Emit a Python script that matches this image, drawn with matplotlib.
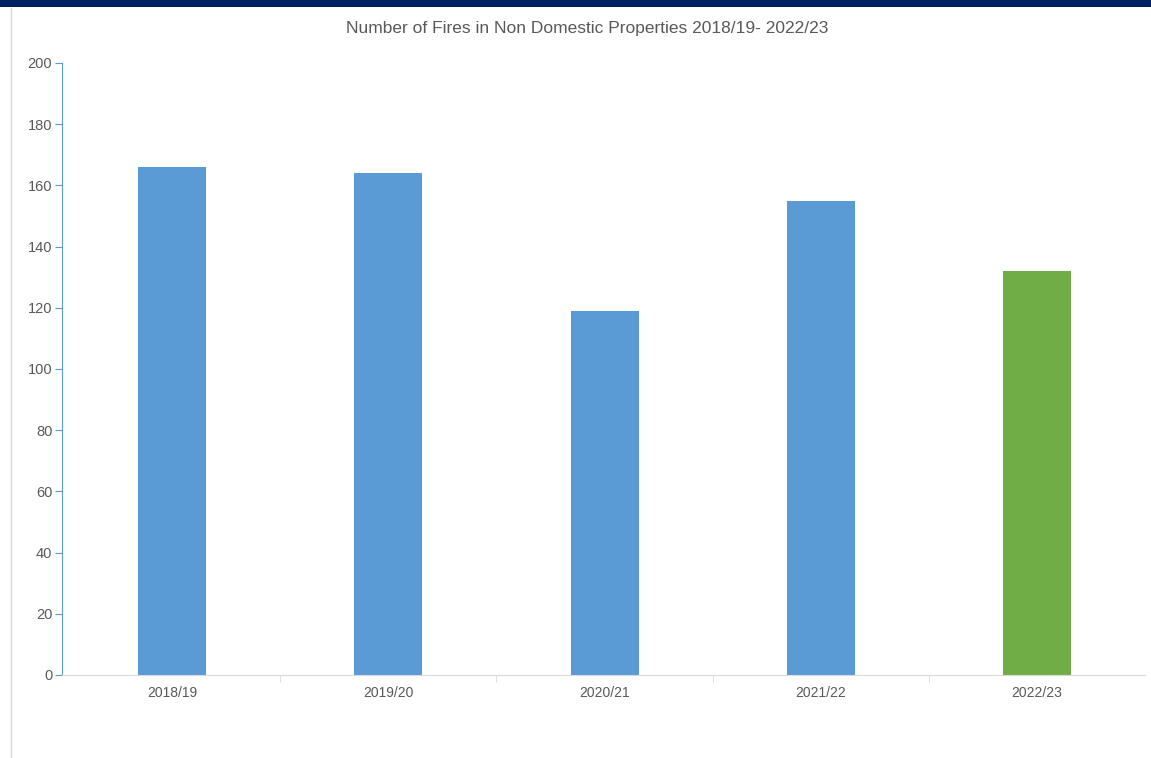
import matplotlib
matplotlib.use("Agg")
import matplotlib.pyplot as plt
from matplotlib.lines import Line2D
from matplotlib.patches import Rectangle

plt.rcParams["font.family"] = ["Liberation Sans", "DejaVu Sans"]

# data
years = ["2018/19", "2019/20", "2020/21", "2021/22", "2022/23"]
fires = [166, 164, 119, 155, 132]
bar_colors = ["#5B9BD5", "#5B9BD5", "#5B9BD5", "#5B9BD5", "#70AD47"]
y_ticks = [0, 20, 40, 60, 80, 100, 120, 140, 160, 180, 200]

W, H = 1151, 758
fig = plt.figure(figsize=(W / 100, H / 100), dpi=100)
fig.patch.set_facecolor("white")

# dark banner across the top and thin frame line on the left
fig.patches.append(Rectangle((0, 1 - 7 / H), 1, 7 / H, transform=fig.transFigure,
                             facecolor="#002060", edgecolor="none"))
fig.lines.append(Line2D([10.5 / W, 10.5 / W], [0, 1 - 8 / H], transform=fig.transFigure,
                        color="#D9D9D9", linewidth=1))

ax = fig.add_axes([62 / W, (H - 675) / H, (1145 - 62) / W, (675 - 63) / H])
x = range(len(years))
ax.bar(x, fires, width=0.315, color=bar_colors, edgecolor="none", zorder=2)

ax.set_xlim(-0.51, len(years) - 0.5)
ax.set_ylim(0, 200)
ax.set_yticks(y_ticks)
ax.set_xticks(list(x))
ax.set_xticklabels(years)

# category separators below the x axis
ax.set_xticks([i + 0.5 for i in range(len(years) - 1)], minor=True)
ax.tick_params(axis="x", which="major", length=0, pad=8, labelsize=10, labelcolor="#595959")
ax.tick_params(axis="x", which="minor", length=5, color="#D9D9D9", direction="out")
ax.tick_params(axis="y", length=5, color="#5B9BD5", labelsize=10.5, labelcolor="#595959", pad=2)

for side in ["top", "right"]:
    ax.spines[side].set_visible(False)
ax.spines["left"].set_color("#5B9BD5")
ax.spines["bottom"].set_color("#D9D9D9")

fig.text(587 / W, 1 - 29 / H, "Number of Fires in Non Domestic Properties 2018/19- 2022/23",
         ha="center", va="center", fontsize=12.5, color="#595959")

fig.savefig("out.png", dpi=100)
